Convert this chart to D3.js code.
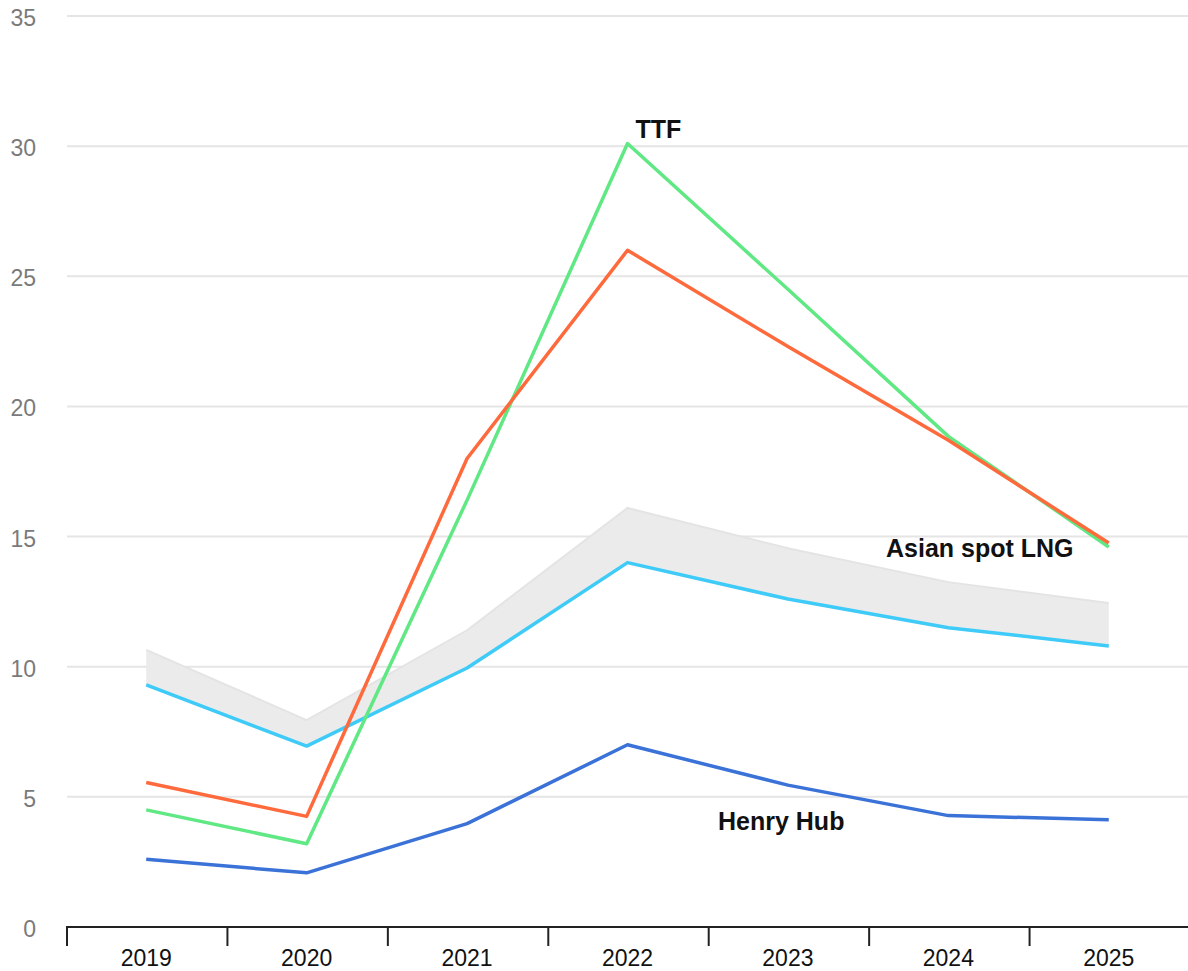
<!DOCTYPE html>
<html><head><meta charset="utf-8">
<script src="https://cdn.jsdelivr.net/npm/d3@7"></script>
<style>body{margin:0;background:#fff}svg{display:block}</style>
</head><body>
<svg id="c" width="1188" height="971"></svg>
<script>
const years = ["2019","2020","2021","2022","2023","2024","2025"];
const yTicks = [0,5,10,15,20,25,30,35];
const ttf = [4.5, 3.2, 16.4, 30.1, 24.5, 18.85, 14.6];
const nbp = [5.55, 4.25, 18.0, 26.0, 22.3, 18.7, 14.75];
const asiaLow = [9.3, 6.95, 9.95, 14.0, 12.6, 11.5, 10.8];
const asiaHigh = [10.65, 7.95, 11.4, 16.1, 14.55, 13.25, 12.45];
const henryHub = [2.6, 2.08, 3.97, 7.0, 5.45, 4.28, 4.12];

const svg = d3.select("#c");
const x = d3.scaleBand().domain(years).range([66, 1189]);
const y = d3.scaleLinear().domain([0,35]).range([927, 16]);
const cx = d => x(d) + x.bandwidth()/2;
const font = "Liberation Sans, Arial, sans-serif";

// grid
svg.append("g").selectAll("line").data(yTicks.filter(t=>t>0)).join("line")
  .attr("x1",67).attr("x2",1188).attr("y1",d=>y(d)).attr("y2",d=>y(d))
  .attr("stroke","#e5e5e5").attr("stroke-width",2);
svg.append("g").selectAll("text").data(yTicks).join("text")
  .attr("x",36).attr("y",d=>y(d)+10).attr("text-anchor","end")
  .attr("font-family",font).attr("font-size",23)
  .attr("fill","#7a7a7a").text(d=>d);

// band
const area = d3.area().x((d,i)=>cx(years[i])).y0((d,i)=>y(asiaLow[i])).y1(d=>y(d));
svg.append("path").datum(asiaHigh).attr("d",area).attr("fill","#ebebeb");
svg.append("path").datum(asiaHigh).attr("fill","none").attr("stroke","#e4e4e4").attr("stroke-width",2)
  .attr("d",d3.line().x((d,i)=>cx(years[i])).y(d=>y(d)));

const line = d3.line().x((d,i)=>cx(years[i])).y(d=>y(d));
const series = [
  {v: asiaLow, c:"#3fcbf8"},
  {v: henryHub, c:"#3a72d8"},
  {v: ttf, c:"#5fe883"},
  {v: nbp, c:"#ff6a3d"}
];
svg.append("g").selectAll("path").data(series).join("path")
  .attr("d",d=>line(d.v)).attr("fill","none").attr("stroke",d=>d.c).attr("stroke-width",3.5)
  .attr("stroke-linejoin","round");

// x axis
const xa = svg.append("g").attr("transform","translate(0,927)");
xa.append("line").attr("x1",66).attr("x2",1188).attr("stroke","#222").attr("stroke-width",2);
const bounds = years.map(d=>x(d));
xa.selectAll("line.t").data(bounds).join("line").attr("class","t")
  .attr("x1",d=>d+1).attr("x2",d=>d+1).attr("y1",0).attr("y2",19)
  .attr("stroke","#222").attr("stroke-width",2);
xa.selectAll("text").data(years).join("text")
  .attr("x",d=>cx(d)).attr("y",39).attr("text-anchor","middle")
  .attr("font-family",font).attr("font-size",23)
  .attr("fill","#111").text(d=>d);

// labels
const labels = [
  {t:"TTF", x:cx("2022")+8, y:138},
  {t:"Asian spot LNG", x:886, y:557},
  {t:"Henry Hub", x:718, y:830}
];
svg.append("g").selectAll("text").data(labels).join("text")
  .attr("x",d=>d.x).attr("y",d=>d.y)
  .attr("font-family",font).attr("font-size",25)
  .attr("font-weight","bold").attr("fill","#111").text(d=>d.t);
</script>
</body></html>
